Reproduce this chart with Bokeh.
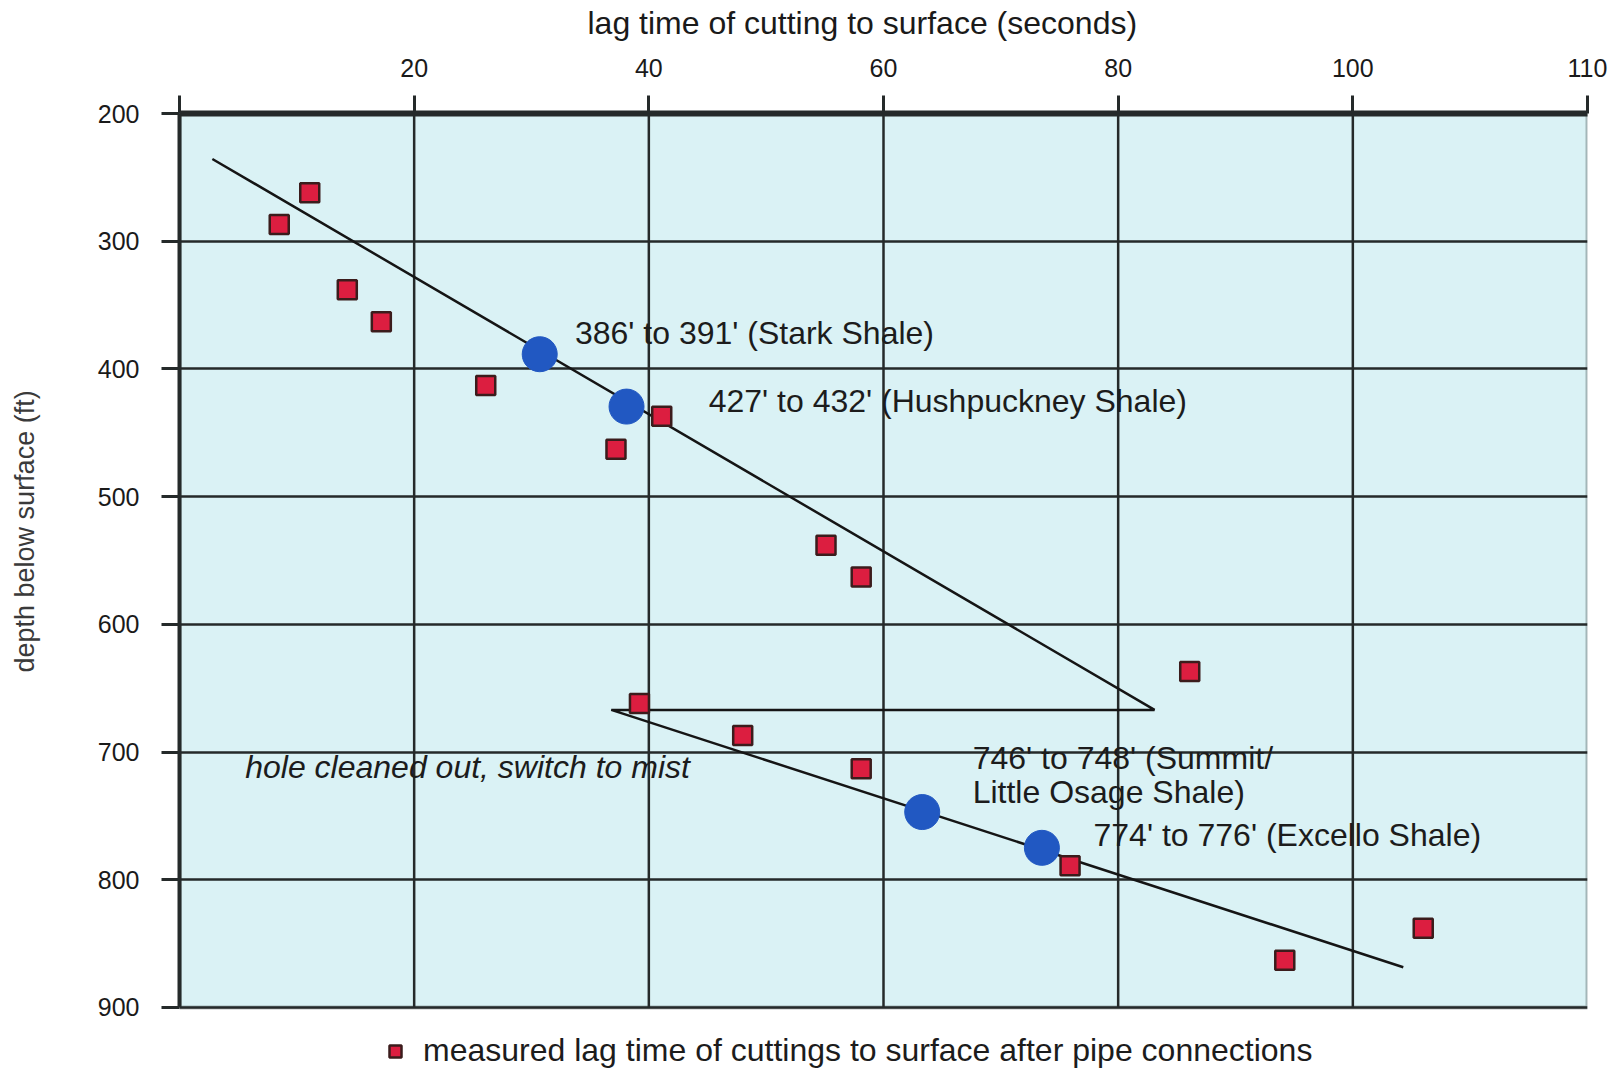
from bokeh.plotting import figure
from bokeh.models import FixedTicker, Legend, LegendItem, ColumnDataSource, Label, BoxAnnotation, Title
from bokeh.core.properties import value
from bokeh.embed import file_html
from bokeh.resources import INLINE

# measured lag time of cuttings (seconds) and depth (ft)
meas_lag = [8.5, 11.1, 14.3, 17.2, 26.1, 37.2, 41.1, 55.1, 58.1, 86.1, 39.2, 48.0, 58.1, 75.9, 94.2, 106.0]
meas_depth = [287, 262, 338, 363, 413, 463, 437, 538, 563, 637, 662, 687, 713, 789, 863, 838]

# shale markers
shale_lag = [30.7, 38.1, 63.3, 73.5]
shale_depth = [388.5, 429.5, 747, 775]

# trend line vertices
trend_lag = [2.8, 83.1, 36.8, 104.3]
trend_depth = [235.6, 667, 667, 868.5]

# annotations
note_text = ["386' to 391' (Stark Shale)", "427' to 432' (Hushpuckney Shale)",
             "746' to 748' (Summit/", "Little Osage Shale)", "774' to 776' (Excello Shale)"]
note_x = [33.7, 45.1, 67.6, 67.6, 77.9]
note_y = [371.5, 425.5, 704.5, 731, 765]

mist_text = ["hole cleaned out, switch to mist"]
mist_x = [5.6]
mist_y = [711.5]

x_ticks = [0, 20, 40, 60, 80, 100, 120]
x_tick_labels = {0: "", 20: "20", 40: "40", 60: "60", 80: "80", 100: "100", 120: "110"}
x_grid = [20, 40, 60, 80, 100]
y_ticks = [200, 300, 400, 500, 600, 700, 800, 900]
x_min, x_max = 0, 120
y_top, y_bottom = 200, 900

FONT = "Liberation Sans"
DARK = "#252a2a"
BG = "#daf2f5"

p = figure(width=1616, height=1068, x_range=(x_min, x_max), y_range=(947.8, y_top),
           x_axis_location="above", output_backend="svg", toolbar_location=None,
           min_border_left=179, min_border_right=29, min_border_top=113, min_border_bottom=0)
p.background_fill_color = "white"
p.border_fill_color = "white"
p.outline_line_color = None

box = BoxAnnotation(left=x_min, right=x_max, top=y_top, bottom=y_bottom, fill_color=BG, fill_alpha=1,
                    line_color=DARK, line_width=4, level="image")
p.add_layout(box)

xa = p.xaxis[0]
xa.ticker = FixedTicker(ticks=x_ticks)
xa.major_label_overrides = x_tick_labels
ya = p.yaxis[0]
ya.ticker = FixedTicker(ticks=y_ticks)
ya.bounds = (y_top, y_bottom)

for ax in (xa, ya):
    ax.minor_tick_line_color = None
    ax.major_tick_out = 18
    ax.major_tick_in = 0
    ax.major_tick_line_width = 3
    ax.major_tick_line_color = DARK
    ax.axis_line_color = DARK
    ax.major_label_text_font = FONT
    ax.major_label_text_font_size = "25px"
    ax.major_label_text_color = "#1a1a1a"
    # blank spacer label: keeps room between tick labels and the axis titles
    ax.axis_label = " "
    ax.axis_label_text_font_size = "1px"

xa.axis_line_width = 6
ya.axis_line_width = 4
xa.major_label_standoff = 19
ya.major_label_standoff = 22
xa.axis_label_standoff = 10
ya.axis_label_standoff = 50

x_title = Title(text="lag time of cutting to surface (seconds)", align="left", offset=408,
                vertical_align="middle", text_font=FONT, text_font_size="32px",
                text_font_style="normal", text_color="#1a1a1a", standoff=0)
p.add_layout(x_title, "above")
y_title = Title(text="depth below surface (ft)", align="left", offset=396,
                vertical_align="middle", text_font=FONT, text_font_size="27px",
                text_font_style="normal", text_color="#3a3a3a", standoff=0)
p.add_layout(y_title, "left")

p.xgrid.visible = False
p.ygrid.ticker = FixedTicker(ticks=y_ticks)
p.ygrid.bounds = (x_min, x_max)
p.ygrid.grid_line_color = DARK
p.ygrid.grid_line_width = 2.5

# vertical grid lines limited to the plotted depth interval
p.segment(x0=x_grid, y0=[y_top] * len(x_grid), x1=x_grid, y1=[y_bottom] * len(x_grid),
          line_color=DARK, line_width=2.5)

p.line(trend_lag, trend_depth, line_color="#151515", line_width=2.5)

sq = p.scatter(meas_lag, meas_depth, marker="square", size=19,
               fill_color="#dc1e40", line_color="#3b1c1c", line_width=2.5)
p.scatter(shale_lag, shale_depth, marker="circle", size=35,
          fill_color="#2158c2", line_color="#2158c2")

notes = ColumnDataSource(dict(x=note_x, y=note_y, t=note_text))
p.text("x", "y", text="t", source=notes, text_font=value(FONT), text_font_size="32px",
       text_color="#1c1c1c", text_baseline="middle", text_align="left")
mist = ColumnDataSource(dict(x=mist_x, y=mist_y, t=mist_text))
p.text("x", "y", text="t", source=mist, text_font=value(FONT), text_font_size="32px",
       text_font_style="italic", text_color="#1c1c1c", text_baseline="middle", text_align="left")

legend = Legend(items=[LegendItem(label="measured lag time of cuttings to surface after pipe connections",
                                  renderers=[sq])],
                location=(201, -1), padding=0, margin=0, spacing=0,
                glyph_width=30, glyph_height=36, label_height=36, label_standoff=13,
                label_text_font=FONT, label_text_font_size="32px", label_text_color="#1c1c1c",
                background_fill_alpha=0, border_line_alpha=0)
p.add_layout(legend, "center")

fig_label = Label(x=1245, y=8, x_units="screen", y_units="screen", text="FIGURE 3",
                  text_font=FONT, text_font_size="32px", text_color="#333333",
                  text_baseline="top")
p.add_layout(fig_label)

open("out.html", "w").write(file_html(p, INLINE))
